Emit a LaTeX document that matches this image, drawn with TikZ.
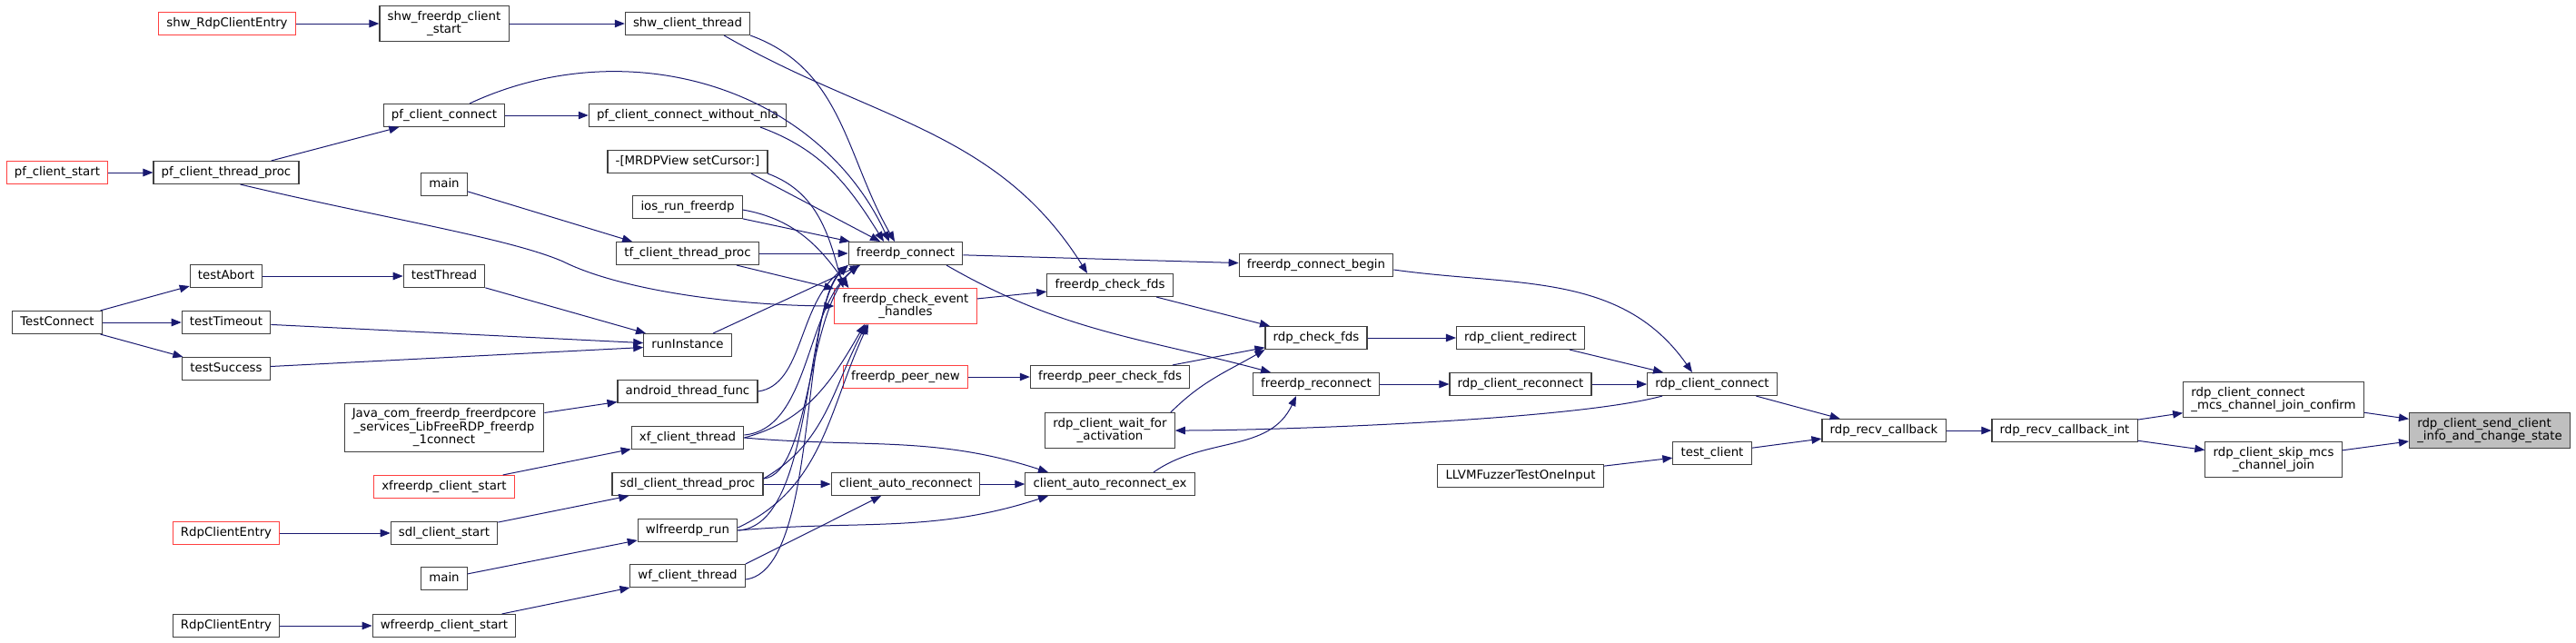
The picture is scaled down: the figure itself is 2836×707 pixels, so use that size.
\documentclass[tikz,border=0pt]{standalone}
\usepackage{fontspec}
\setmainfont{DejaVu Sans}
\usetikzlibrary{arrows.meta}
\definecolor{edgeblue}{HTML}{191970}
\definecolor{truncred}{HTML}{FF4040}
\definecolor{focusgray}{HTML}{BFBFBF}
\def\callfont{\fontsize{13.33}{14.5}\selectfont}
\tikzset{
  nodebase/.style={draw=black!75, line width=1.1pt, fill=white, font=\callfont, inner xsep=8.7pt, inner ysep=5.5pt, minimum height=25pt, align=center},
  callbox/.style={nodebase, text height=10.2pt, text depth=3.1pt},
  multibox/.style={nodebase},
  truncated/.style={draw=truncred},
  focused/.style={fill=focusgray},
  callarrow/.style={draw=edgeblue, line width=1pt, -{Triangle[length=11pt,width=8.5pt]}}
}

\begin{document}
\begin{tikzpicture}[x=1pt,y=-1pt]
			%%%%% START %%%%%
			\useasboundingbox (0,0) rectangle (2836,707);

			% column 1 and 2
			\node[callbox, truncated] (pfstart) at (63,190) {pf\_client\_start};
			\node[callbox] (testconnect) at (63,355) {TestConnect};
			\node[callbox, truncated] (shwentry) at (250,26) {shw\_RdpClientEntry};
			\node[callbox] (pfthread) at (249,190) {pf\_client\_thread\_proc};
			\node[callbox] (testabort) at (249,304) {testAbort};
			\node[callbox] (testtimeout) at (249,355) {testTimeout};
			\node[callbox] (testsuccess) at (249,406) {testSuccess};
			\node[callbox, truncated] (rdpentryA) at (249,587) {RdpClientEntry};
			\node[callbox] (rdpentryB) at (249,689) {RdpClientEntry};

			% column 3
			\node[multibox] (shwstart) at (489,26) {shw\_freerdp\_client\\\_start};
			\node[callbox] (pfconnect) at (489,127) {pf\_client\_connect};
			\node[callbox] (mainA) at (489,203) {main};
			\node[callbox] (testthread) at (489,304) {testThread};
			\node[multibox] (java) at (489,471) {Java\_com\_freerdp\_freerdpcore\\\_services\_LibFreeRDP\_freerdp\\\_1connect};
			\node[callbox, truncated] (xfstart) at (489,536) {xfreerdp\_client\_start};
			\node[callbox] (sdlstart) at (489,587) {sdl\_client\_start};
			\node[callbox] (mainB) at (489,637) {main};
			\node[callbox] (wfstart) at (489,689) {wfreerdp\_client\_start};

			% column 4
			\node[callbox] (shwthread) at (757,26) {shw\_client\_thread};
			\node[callbox] (pfnonla) at (757,127) {pf\_client\_connect\_without\_nla};
			\node[callbox] (mrdp) at (757,178) {-[MRDPView setCursor:]};
			\node[callbox] (ios) at (757,228) {ios\_run\_freerdp};
			\node[callbox] (tfthread) at (757,279) {tf\_client\_thread\_proc};
			\node[callbox] (runinst) at (757,380) {runInstance};
			\node[callbox] (android) at (757,431) {android\_thread\_func};
			\node[callbox] (xfthread) at (757,482) {xf\_client\_thread};
			\node[callbox] (sdlthread) at (757,533) {sdl\_client\_thread\_proc};
			\node[callbox] (wlrun) at (757,584) {wlfreerdp\_run};
			\node[callbox] (wfthread) at (757,634) {wf\_client\_thread};

			% column 5 and 6
			\node[callbox] (fconnect) at (997,279) {freerdp\_connect};
			\node[multibox, truncated] (fcheckev) at (997,337) {freerdp\_check\_event\\\_handles};
			\node[callbox, truncated] (peernew) at (997,415) {freerdp\_peer\_new};
			\node[callbox] (autorec) at (997,533) {client\_auto\_reconnect};
			\node[callbox] (fcheckfds) at (1222,314) {freerdp\_check\_fds};
			\node[callbox] (peercheck) at (1222,415) {freerdp\_peer\_check\_fds};
			\node[multibox] (waitact) at (1222,474) {rdp\_client\_wait\_for\\\_activation};
			\node[callbox] (autorecex) at (1222,533) {client\_auto\_reconnect\_ex};

			% column 7 and 8
			\node[callbox] (fbegin) at (1449,292) {freerdp\_connect\_begin};
			\node[callbox] (rdpcheck) at (1449,372) {rdp\_check\_fds};
			\node[callbox] (freconnect) at (1449,423) {freerdp\_reconnect};
			\node[callbox] (redirect) at (1674,372) {rdp\_client\_redirect};
			\node[callbox] (rreconnect) at (1674,423) {rdp\_client\_reconnect};
			\node[callbox] (llvm) at (1674,524) {LLVMFuzzerTestOneInput};

			% right part
			\node[callbox] (rconnect) at (1885,423) {rdp\_client\_connect};
			\node[callbox] (testclient) at (1885,499) {test\_client};
			\node[callbox] (recvcb) at (2074,474) {rdp\_recv\_callback};
			\node[callbox] (recvcbint) at (2273,474) {rdp\_recv\_callback\_int};
			\node[multibox, align=left] (joinconfirm) at (2503,440) {rdp\_client\_connect\\\_mcs\_channel\_join\_confirm};
			\node[multibox] (skipmcs) at (2503,506) {rdp\_client\_skip\_mcs\\\_channel\_join};
			\node[multibox, focused, align=left] (target) at (2741,474) {rdp\_client\_send\_client\\\_info\_and\_change\_state};

			% left edges
			\draw[callarrow] (shwentry) -- (shwstart);
			\draw[callarrow] (shwstart) -- (shwthread);
			\draw[callarrow] (pfstart) -- (pfthread);
			\draw[callarrow] (pfthread) -- (pfconnect);
			\draw[callarrow] (pfconnect) -- (pfnonla);
			\draw[callarrow] (testconnect) -- (testabort);
			\draw[callarrow] (testconnect) -- (testtimeout);
			\draw[callarrow] (testconnect) -- (testsuccess);
			\draw[callarrow] (testabort) -- (testthread);
			\draw[callarrow] (testthread) -- (runinst);
			\draw[callarrow] (testtimeout) -- (runinst);
			\draw[callarrow] (testsuccess) -- (runinst);
			\draw[callarrow] (mainA) -- ([xshift=18pt]tfthread.north west);
			\draw[callarrow] (java) -- (android);
			\draw[callarrow] (xfstart) -- (xfthread);
			\draw[callarrow] (rdpentryA) -- (sdlstart);
			\draw[callarrow] (sdlstart) -- (sdlthread);
			\draw[callarrow] (mainB) -- (wlrun);
			\draw[callarrow] (rdpentryB) -- (wfstart);
			\draw[callarrow] (wfstart) -- (wfthread);

			% into freerdp_connect and freerdp_check_event_handles
			\draw[callarrow] (shwthread.south east) to[out=-20,in=120] ([xshift=-12pt]fconnect.north);
			\draw[callarrow] (pfconnect.25) to[out=25,in=115] ([xshift=-18pt]fconnect.north);
			\draw[callarrow] ([xshift=80pt]pfnonla.south) to[out=-20,in=122] ([xshift=-24pt]fconnect.north);
			\draw[callarrow] ([xshift=70pt]mrdp.south) -- ([xshift=-28pt]fconnect.north);
			\draw[callarrow] ([xshift=88pt]mrdp.south) to[out=-20,in=105] ([xshift=10pt]fcheckev.north west);
			\draw[callarrow] (ios) -- (fconnect);
			\draw[callarrow] ([yshift=-3pt]ios.east) to[out=-10,in=125] ([xshift=16pt]fcheckev.north west);
			\draw[callarrow] (tfthread) -- (fconnect);
			\draw[callarrow] (tfthread) -- (fcheckev);
			\draw[callarrow] (pfthread.-40) .. controls (420,240) and (560,262) .. (620,288) .. controls (680,318) and (800,336) .. (fcheckev.west);
			\draw[callarrow] (runinst) -- ([xshift=-50pt]fconnect.south);
			\draw[callarrow] (android.east) .. controls (885,424) and (878,335) .. (fconnect.south west);
			\draw[callarrow] ([yshift=3pt]xfthread.east) .. controls (892,472) and (886,340) .. ([xshift=12pt]fconnect.south west);
			\draw[callarrow] (xfthread.east) to[out=15,in=-120] ([xshift=-45pt]fcheckev.south);
			\draw[callarrow] ([yshift=6pt]sdlthread.east) .. controls (893,522) and (888,340) .. ([xshift=12pt]fconnect.south west);
			\draw[callarrow] ([yshift=6pt]sdlthread.east) to[out=30,in=-118] ([xshift=-43pt]fcheckev.south);
			\draw[callarrow] (wlrun.east) .. controls (897,580) and (884,340) .. (fconnect.south west);
			\draw[callarrow] ([yshift=3pt]wlrun.east) to[out=25,in=-115] ([xshift=-41pt]fcheckev.south);
			\draw[callarrow] ([yshift=-4pt]wfthread.east) .. controls (902,628) and (880,340) .. (fconnect.south west);

			% reconnect chain
			\draw[callarrow] (sdlthread) -- (autorec);
			\draw[callarrow] (wfthread.north east) -- ([xshift=-27pt]autorec.south);
			\draw[callarrow] (autorec) -- (autorecex);
			\draw[callarrow] (xfthread.east) to[out=-5,in=162] ([xshift=-68pt]autorecex.north);
			\draw[callarrow] (wlrun.east) to[out=5,in=-162] ([xshift=-68pt]autorecex.south);
			\draw[callarrow] ([xshift=48pt]autorecex.north) to[out=35,in=-115] ([xshift=-22pt]freconnect.south);

			% middle edges
			\draw[callarrow] (shwthread.-18) to[out=-30,in=122] ([xshift=-25pt]fcheckfds.north);
			\draw[callarrow] (fconnect) -- (fbegin);
			\draw[callarrow] ([xshift=45pt]fconnect.south) to[out=-30,in=165] ([xshift=-50pt]freconnect.north);
			\draw[callarrow] (fcheckev) -- (fcheckfds);
			\draw[callarrow] (fcheckfds) -- (rdpcheck);
			\draw[callarrow] (peernew) -- (peercheck);
			\draw[callarrow] (peercheck) -- (rdpcheck);
			\draw[callarrow] ([xshift=-5pt]waitact.north east) to[out=45,in=-150] (rdpcheck.south west);
			\draw[callarrow] (rdpcheck) -- (redirect);
			\draw[callarrow] (redirect) -- (rconnect);
			\draw[callarrow] (freconnect) -- (rreconnect);
			\draw[callarrow] (rreconnect) -- (rconnect);
			\draw[callarrow] ([yshift=-5pt]fbegin.east) to[out=-8,in=125] ([xshift=-22pt]rconnect.north);
			\draw[callarrow] ([xshift=-55pt]rconnect.south) to[out=-165,in=0,looseness=0.5] (waitact.east);

			% right edges
			\draw[callarrow] (rconnect) -- (recvcb);
			\draw[callarrow] (llvm) -- (testclient);
			\draw[callarrow] (testclient) -- (recvcb);
			\draw[callarrow] (recvcb) -- (recvcbint);
			\draw[callarrow] (recvcbint) -- (joinconfirm);
			\draw[callarrow] (recvcbint) -- (skipmcs);
			\draw[callarrow] (joinconfirm) -- (target);
			\draw[callarrow] (skipmcs) -- (target);

			%%%%% END %%%%%
\end{tikzpicture}
\end{document}
